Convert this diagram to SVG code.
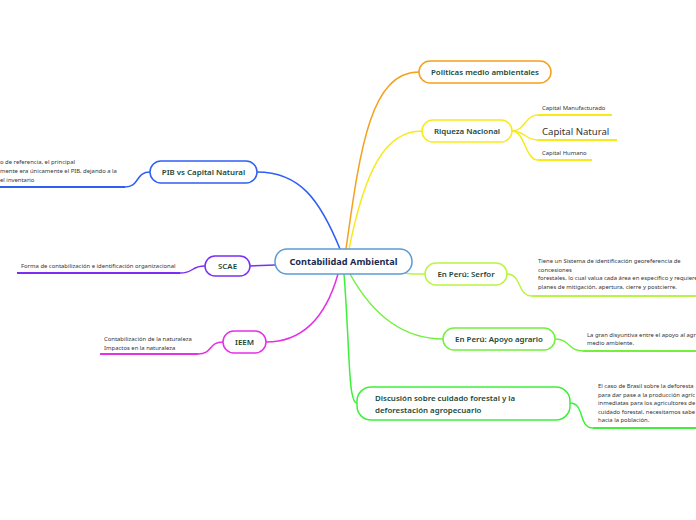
<svg xmlns="http://www.w3.org/2000/svg" width="696" height="520" viewBox="0 0 696 520">
<style>
.n{fill:#fff;stroke-width:1.5}
.t{font-family:"Noto Sans","Open Sans",sans-serif;font-size:7.9px;font-weight:600;fill:#1b4a3a;text-anchor:middle}
.s{font-family:"Noto Sans","Open Sans",sans-serif;font-size:5.9px;fill:#333}
.c{fill:none;stroke-width:1.5}
.u{fill:none;stroke-width:2}
</style>
<rect width="696" height="520" fill="#fff"/>
<g id="connectors">
<path class="c" stroke="#f5a01e" d="M346,249 C360,150 370,72 419,72"/>
<path class="c" stroke="#f7ea1b" d="M349,249 C365,170 385,131 422,131"/>
<path class="c" stroke="#2f5ff3" d="M340,249 C320,200 300,172 257,172"/>
<path class="c" stroke="#7a2ff0" d="M275,265 L250,266"/>
<path class="c" stroke="#e62fe6" d="M338,274 C325,320 300,342 266,342"/>
<path class="c" stroke="#b9f542" d="M400,272 C410,275 415,274 425,274"/>
<path class="c" stroke="#72f03c" d="M350,274 C370,310 400,339 443,339"/>
<path class="c" stroke="#3ef03a" d="M344,274 C350,350 348,403 357,403"/>
<path class="c" stroke="#f7ea1b" d="M512,131 C525,131 525,115 538,115"/>
<path class="c" stroke="#f7ea1b" d="M512,131 C525,131 525,140 538,140"/>
<path class="c" stroke="#f7ea1b" d="M512,131 C525,131 525,160 538,160"/>
<path class="u" stroke="#f7ea1b" d="M538,115 H612 M538,140 H617 M538,160 H592"/>
<path class="c" stroke="#2f5ff3" d="M150,172 C135,172 140,187 125,187"/>
<path class="u" stroke="#2f5ff3" d="M0,187 H125"/>
<path class="c" stroke="#7a2ff0" d="M205,266 C190,266 195,273 180,273"/>
<path class="u" stroke="#7a2ff0" d="M17,273 H180"/>
<path class="c" stroke="#e62fe6" d="M223,342 C208,342 213,354 198,354"/>
<path class="u" stroke="#e62fe6" d="M100,354 H198"/>
<path class="c" stroke="#b9f542" d="M507,274 C522,274 517,296 532,296"/>
<path class="u" stroke="#b9f542" d="M532,296 H696"/>
<path class="c" stroke="#72f03c" d="M555,339 C570,339 568,351 583,351"/>
<path class="u" stroke="#72f03c" d="M583,351 H696"/>
<path class="c" stroke="#3ef03a" d="M570,403 C585,403 578,428 593,428"/>
<path class="u" stroke="#3ef03a" d="M593,428 H696"/>
</g>
<g id="central">
<rect class="n" x="275" y="249" width="137" height="25" rx="12" stroke="#5b9bd5"/>
<text class="t" x="343.5" y="265" style="font-size:9.2px;font-weight:700;fill:#1c2a4e">Contabilidad Ambiental</text>
</g>
<g id="politicas">
<rect class="n" x="419" y="61" width="132" height="22" rx="11" stroke="#f5a01e"/>
<text class="t" x="485" y="75">Politicas medio ambientales</text>
</g>
<g id="riqueza">
<rect class="n" x="422" y="120" width="90" height="22" rx="11" stroke="#f7ea1b"/>
<text class="t" x="467" y="134">Riqueza Nacional</text>
</g>
<g id="cap-manuf"><text class="s" x="542" y="110">Capital Manufacturado</text></g>
<g id="cap-natural"><text class="s" x="542" y="135" style="font-size:9.6px">Capital Natural</text></g>
<g id="cap-humano"><text class="s" x="542" y="155">Capital Humano</text></g>
<g id="pib">
<rect class="n" x="150" y="161" width="107" height="22" rx="11" stroke="#2f5ff3"/>
<text class="t" x="203.5" y="175">PIB vs Capital Natural</text>
</g>
<g id="pib-note">
<text class="s" x="0" y="164">o de referencia, el principal</text>
<text class="s" x="0" y="173">mente era únicamente el PIB, dejando a la</text>
<text class="s" x="0" y="182">el inventario</text>
</g>
<g id="scae">
<rect class="n" x="205" y="256" width="45" height="20" rx="10" stroke="#7a2ff0"/>
<text class="t" x="227.5" y="269">SCAE</text>
</g>
<g id="scae-note"><text class="s" x="21" y="268">Forma de contabilización e identificación organizacional</text></g>
<g id="ieem">
<rect class="n" x="223" y="331" width="43" height="22" rx="11" stroke="#e62fe6"/>
<text class="t" x="244.5" y="345">IEEM</text>
</g>
<g id="ieem-note">
<text class="s" x="104" y="341">Contabilización de la naturaleza</text>
<text class="s" x="104" y="350">Impactos en la naturaleza</text>
</g>
<g id="serfor">
<rect class="n" x="425" y="263" width="82" height="22" rx="11" stroke="#b9f542"/>
<text class="t" x="466" y="277">En Perú: Serfor</text>
</g>
<g id="serfor-note">
<text class="s" x="538" y="263">Tiene un Sistema de identificación georeferencia de</text>
<text class="s" x="538" y="272">concesiones</text>
<text class="s" x="538" y="280">forestales, lo cual valua cada área en especifico y requiere</text>
<text class="s" x="538" y="289">planes de mitigación, apertura, cierre y postcierre.</text>
</g>
<g id="apoyo">
<rect class="n" x="443" y="328" width="112" height="22" rx="11" stroke="#72f03c"/>
<text class="t" x="499" y="342">En Perú: Apoyo agrario</text>
</g>
<g id="apoyo-note">
<text class="s" x="587" y="337">La gran disyuntiva entre el apoyo al agr</text>
<text class="s" x="587" y="345">medio ambiente.</text>
</g>
<g id="discusion">
<rect class="n" x="357" y="387" width="213" height="33" rx="14" stroke="#3ef03a"/>
<text class="t" x="375" y="401" style="text-anchor:start">Discusión sobre cuidado forestal y la</text>
<text class="t" x="375" y="413" style="text-anchor:start">deforestación agropecuario</text>
</g>
<g id="discusion-note">
<text class="s" x="598" y="388">El caso de Brasil sobre la deforesta</text>
<text class="s" x="598" y="397">para dar pase a la producción agríc</text>
<text class="s" x="598" y="405">inmediatas para los agricultores de</text>
<text class="s" x="598" y="414">cuidado forestal, necesitamos sabe</text>
<text class="s" x="598" y="422">hacia la población.</text>
</g>
</svg>
